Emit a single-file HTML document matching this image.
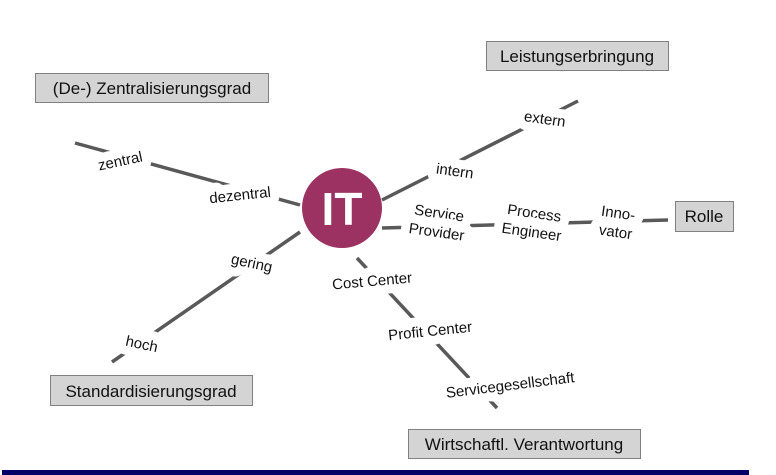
<!DOCTYPE html>
<html><head><meta charset="utf-8"><style>
html,body{margin:0;padding:0;background:#fff;}
svg{display:block;}
text{font-family:"Liberation Sans",Arial,sans-serif;}
.lbl{font-size:15px;fill:#111;stroke:#fff;stroke-width:18px;paint-order:stroke;stroke-linejoin:round;}
.box{fill:#d4d4d4;stroke:#808080;stroke-width:1;}
.bt{font-size:17px;fill:#111;}
</style></head><body>
<svg width="776" height="475" viewBox="0 0 776 475">
<g stroke="#595959" stroke-width="3.5" fill="none">
<line x1="75" y1="143" x2="300" y2="205"/>
<line x1="300" y1="232" x2="112" y2="362"/>
<line x1="382" y1="200" x2="578" y2="101"/>
<line x1="382" y1="228" x2="668" y2="220"/>
<line x1="357" y1="258" x2="497" y2="408"/>
</g>
<circle cx="342" cy="208" r="40" fill="#9b3262"/>
<text x="342" y="225" text-anchor="middle" font-size="46" font-weight="bold" fill="#fff" style="font-family:'Liberation Sans',sans-serif">IT</text>

<text class="lbl" x="120" y="166" text-anchor="middle" transform="rotate(-12 120 160)">zentral</text>
<text class="lbl" x="240" y="200" text-anchor="middle" transform="rotate(-6 240 195)">dezentral</text>
<text class="lbl" x="252" y="268" text-anchor="middle" transform="rotate(12 252 262)">gering</text>
<text class="lbl" x="142" y="349" text-anchor="middle" transform="rotate(12 142 343)">hoch</text>
<text class="lbl" x="455" y="176" text-anchor="middle" transform="rotate(8 455 170)">intern</text>
<text class="lbl" x="545" y="124" text-anchor="middle" transform="rotate(8 545 118)">extern</text>
<text class="lbl" x="438" y="218" text-anchor="middle" transform="rotate(8 438 222)">Service</text>
<text class="lbl" x="438" y="237" text-anchor="middle" transform="rotate(8 438 222)">Provider</text>
<text class="lbl" x="533" y="218" text-anchor="middle" transform="rotate(8 533 222)">Process</text>
<text class="lbl" x="533" y="237" text-anchor="middle" transform="rotate(8 533 222)">Engineer</text>
<text class="lbl" x="617" y="218" text-anchor="middle" transform="rotate(8 617 222)">Inno-</text>
<text class="lbl" x="617" y="237" text-anchor="middle" transform="rotate(8 617 222)">vator</text>
<text class="lbl" x="372" y="286" text-anchor="middle" transform="rotate(-5 372 280)">Cost Center</text>
<text class="lbl" x="430" y="336" text-anchor="middle" transform="rotate(-6 430 330)">Profit Center</text>
<text class="lbl" x="510" y="390" text-anchor="middle" transform="rotate(-7 510 384)">Servicegesellschaft</text>

<rect class="box" x="35.5" y="73.5" width="233" height="29"/>
<text class="bt" x="152" y="94" text-anchor="middle">(De-) Zentralisierungsgrad</text>
<rect class="box" x="486.5" y="41.5" width="182" height="29"/>
<text class="bt" x="577" y="62" text-anchor="middle">Leistungserbringung</text>
<rect class="box" x="675.5" y="201.5" width="58" height="30"/>
<text class="bt" x="704" y="222" text-anchor="middle">Rolle</text>
<rect class="box" x="50.5" y="375.5" width="202" height="30"/>
<text class="bt" x="151" y="397" text-anchor="middle">Standardisierungsgrad</text>
<rect class="box" x="408.5" y="429.5" width="232" height="29"/>
<text class="bt" x="524" y="450" text-anchor="middle">Wirtschaftl. Verantwortung</text>

<rect x="2" y="470" width="747" height="5" fill="#000066"/>
</svg>
</body></html>
